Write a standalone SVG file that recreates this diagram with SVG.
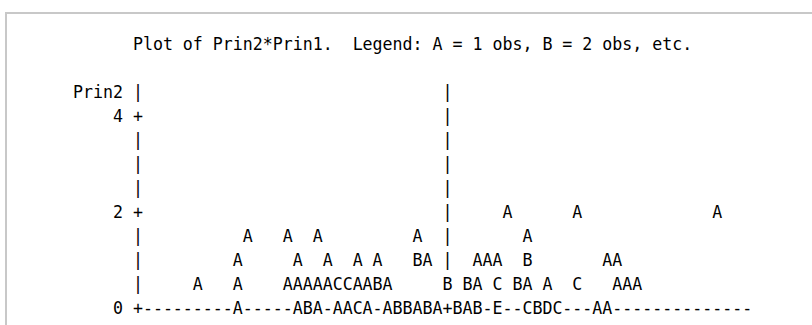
<svg xmlns="http://www.w3.org/2000/svg" width="812" height="325" viewBox="0 0 812 325">
<style>
  .t { font-family: "DejaVu Sans Mono", "Liberation Mono", monospace; font-size: 18px; fill: #000; white-space: pre; }
</style>
<rect width="812" height="325" fill="#ffffff"/>
<rect id="frame" x="6" y="13" width="830" height="340" fill="none" stroke="#c8c8c8" stroke-width="2"/>
<g id="plot" transform="scale(0.92276 1)">
  <text class="t" xml:space="preserve" x="79.11" y="50">      Plot of Prin2*Prin1.  Legend: A = 1 obs, B = 2 obs, etc.</text>
  <text class="t" xml:space="preserve" x="79.11" y="98">Prin2 |                              |</text>
  <text class="t" xml:space="preserve" x="79.11" y="122">    4 +                              |</text>
  <text class="t" xml:space="preserve" x="79.11" y="146">      |                              |</text>
  <text class="t" xml:space="preserve" x="79.11" y="170">      |                              |</text>
  <text class="t" xml:space="preserve" x="79.11" y="194">      |                              |</text>
  <text class="t" xml:space="preserve" x="79.11" y="218">    2 +                              |     A      A             A</text>
  <text class="t" xml:space="preserve" x="79.11" y="242">      |          A   A  A         A  |       A</text>
  <text class="t" xml:space="preserve" x="79.11" y="266">      |         A     A  A  A A   BA |  AAA  B       AA</text>
  <text class="t" xml:space="preserve" x="79.11" y="290">      |     A   A    AAAAACCAABA     B BA C BA A  C   AAA</text>
  <text class="t" xml:space="preserve" x="79.11" y="314">    0 +---------A-----ABA-AACA-ABBABA+BAB-E--CBDC---AA--------------</text>
</g>
</svg>
